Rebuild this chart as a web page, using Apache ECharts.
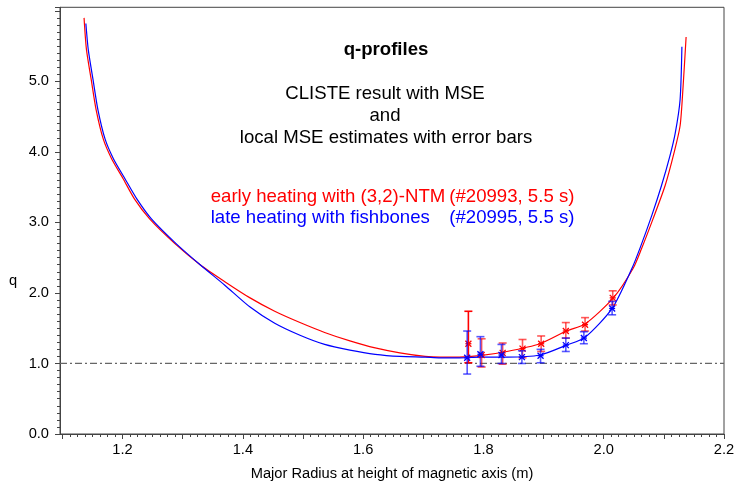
<!DOCTYPE html>
<html><head><meta charset="utf-8">
<script src="https://cdn.jsdelivr.net/npm/echarts@6/dist/echarts.min.js"></script>
<style>html,body{margin:0;padding:0;background:#fff}#c{width:741px;height:486px}</style>
</head><body><div id="c"></div>
<script>
// ---- axis ticks / labels ----
const xMajorTicks = [1.1,1.2,1.3,1.4,1.5,1.6,1.7,1.8,1.9,2.0,2.1,2.2];
const xTickLabels = [1.2,1.4,1.6,1.8,2.0,2.2];
const yTickLabels = [0,1,2,3,4,5];

// ---- CLISTE q-profiles (major radius R, q) ----
const earlyR = [1.136,1.140,1.148,1.156,1.168,1.182,1.201,1.220,1.245,1.287,1.329,1.370,1.412,1.453,1.495,1.536,1.578,1.620,1.661,1.703,1.728,1.760,1.794,1.839,1.894,1.938,1.969,2.016,2.049,2.063,2.082,2.102,2.117,2.127,2.132,2.137];
const earlyQ = [5.90,5.45,5.02,4.60,4.18,3.90,3.62,3.33,3.05,2.70,2.40,2.16,1.93,1.74,1.58,1.44,1.32,1.22,1.15,1.10,1.09,1.09,1.11,1.17,1.28,1.46,1.56,1.93,2.35,2.63,3.05,3.52,3.99,4.37,4.93,5.63];
const lateR  = [1.139,1.143,1.151,1.159,1.171,1.185,1.204,1.224,1.248,1.289,1.329,1.370,1.412,1.453,1.495,1.536,1.578,1.620,1.661,1.703,1.728,1.760,1.794,1.839,1.894,1.938,1.969,2.014,2.047,2.061,2.080,2.096,2.110,2.119,2.127,2.130];
const lateQ  = [5.82,5.45,5.02,4.60,4.18,3.90,3.62,3.33,3.05,2.70,2.40,2.11,1.80,1.57,1.40,1.27,1.19,1.13,1.10,1.09,1.08,1.08,1.09,1.09,1.12,1.26,1.37,1.78,2.35,2.65,3.10,3.52,3.94,4.27,4.74,5.49];

// ---- local MSE estimates with error bars ----
const earlyMseR  = [1.775,1.797,1.832,1.865,1.896,1.937,1.969,2.015];
const earlyMseQ  = [1.28,1.12,1.15,1.21,1.28,1.46,1.55,1.93];
const earlyMseLo = [1.01,0.95,0.99,1.08,1.17,1.36,1.46,1.83];
const earlyMseHi = [1.74,1.35,1.29,1.34,1.39,1.58,1.65,2.03];
const lateMseR   = [1.773,1.795,1.830,1.864,1.895,1.937,1.967,2.014];
const lateMseQ   = [1.08,1.13,1.12,1.09,1.11,1.26,1.36,1.78];
const lateMseLo  = [0.85,0.96,1.00,1.00,1.01,1.17,1.28,1.69];
const lateMseHi  = [1.46,1.38,1.27,1.18,1.20,1.36,1.45,1.88];

const refQ = 1.0;
const xMin = 1.096, xMax = 2.2, yMin = 0, yMax = 6.05;

const FONT = 'Liberation Sans, Arial, Helvetica, sans-serif';
const RED = '#ff0000', BLUE = '#0000ff';

const xMinorTicks = [];
for (let i = 0; i <= 88; i++) {
  const v = Math.round((1.1 + i * 0.0125) * 10000) / 10000;
  if (i % 8 !== 0) xMinorTicks.push(v);
}

const zip = (a, b) => a.map((v, i) => [v, b[i]]);
const zip4 = (a, b, c, d) => a.map((v, i) => [v, b[i], c[i], d[i]]);

function errRender(color) {
  return function (params, api) {
    const x = api.value(0), m = api.value(1), lo = api.value(2), hi = api.value(3);
    const pLo = api.coord([x, lo]), pHi = api.coord([x, hi]), pM = api.coord([x, m]);
    const cap = 4, s = 3;
    const op = params.dataIndex === 0 && color === RED ? 1 : 0.65;
    const bar = { stroke: color, lineWidth: 1.6, opacity: op };
    const mk = { stroke: color, lineWidth: 1.3 };
    return {
      type: 'group',
      children: [
        { type: 'line', shape: { x1: pLo[0], y1: pLo[1], x2: pHi[0], y2: pHi[1] }, style: bar },
        { type: 'line', shape: { x1: pLo[0] - cap, y1: pLo[1], x2: pLo[0] + cap, y2: pLo[1] }, style: bar },
        { type: 'line', shape: { x1: pHi[0] - cap, y1: pHi[1], x2: pHi[0] + cap, y2: pHi[1] }, style: bar },
        { type: 'line', shape: { x1: pM[0] - s, y1: pM[1] - s, x2: pM[0] + s, y2: pM[1] + s }, style: mk },
        { type: 'line', shape: { x1: pM[0] - s, y1: pM[1] + s, x2: pM[0] + s, y2: pM[1] - s }, style: mk },
        { type: 'line', shape: { x1: pM[0] - s, y1: pM[1], x2: pM[0] + s, y2: pM[1] }, style: mk }
      ]
    };
  };
}

function txt(text, x, y, color, opts) {
  opts = opts || {};
  return {
    type: 'text', silent: true,
    style: {
      text: text, x: x, y: y, fill: color,
      font: (opts.bold ? 'bold ' : '') + (opts.size || 18.6) + 'px ' + FONT,
      align: opts.align || 'center', textAlign: opts.align || 'center',
      verticalAlign: 'middle', textVerticalAlign: 'middle'
    }
  };
}

const chart = echarts.init(document.getElementById('c'), null, { renderer: 'canvas' });
chart.setOption({
  animation: false,
  backgroundColor: '#fff',
  grid: { left: 60, right: 17, top: 7.3, bottom: 49.3, show: true, borderColor: '#444', borderWidth: 1, backgroundColor: 'transparent' },
  xAxis: [{
    type: 'value', min: xMin, max: xMax, position: 'bottom',
    name: 'Major Radius at height of magnetic axis (m)', nameLocation: 'middle', nameGap: 32,
    nameTextStyle: { fontFamily: FONT, fontSize: 14.67, color: '#000' },
    axisLine: { show: true, lineStyle: { color: '#444', width: 1 } },
    axisTick: { show: true, length: 5, customValues: xMajorTicks, lineStyle: { color: '#444' } },
    axisLabel: { customValues: xTickLabels, margin: 8, fontFamily: FONT, fontSize: 14.67, color: '#000', formatter: v => Number(v).toFixed(1) },
    splitLine: { show: false }
  }, {
    type: 'value', min: xMin, max: xMax, position: 'bottom', gridIndex: 0,
    axisLine: { show: false },
    axisTick: { show: true, length: 3, customValues: xMinorTicks, lineStyle: { color: '#444' } },
    axisLabel: { show: false },
    splitLine: { show: false }
  }],
  yAxis: {
    type: 'value', min: yMin, max: yMax, interval: 1,
    axisLine: { show: true, lineStyle: { color: '#444', width: 1 } },
    axisTick: { show: true, length: 5, lineStyle: { color: '#444' } },
    minorTick: { show: true, splitNumber: 10, length: 3, lineStyle: { color: '#444' } },
    axisLabel: { margin: 11, fontFamily: FONT, fontSize: 14.67, color: '#000', formatter: v => (yTickLabels.indexOf(Math.round(v)) >= 0 && v < 5.5) ? Number(v).toFixed(1) : '' },
    splitLine: { show: false }
  },
  series: [
    {
      type: 'line', data: [[xMin, refQ], [xMax, refQ]], symbol: 'none', silent: true,
      lineStyle: { color: '#666', width: 1.3, type: [7, 3, 2, 3] }
    },
    {
      name: 'early', type: 'line', data: zip(earlyR, earlyQ), symbol: 'none', smooth: 0.25,
      lineStyle: { color: RED, width: 1.2 }
    },
    {
      name: 'late', type: 'line', data: zip(lateR, lateQ), symbol: 'none', smooth: 0.25,
      lineStyle: { color: BLUE, width: 1.2 }
    },
    {
      type: 'custom', renderItem: errRender(RED), data: zip4(earlyMseR, earlyMseQ, earlyMseLo, earlyMseHi),
      encode: { x: 0, y: [1, 2, 3] }, z: 5
    },
    {
      type: 'custom', renderItem: errRender(BLUE), data: zip4(lateMseR, lateMseQ, lateMseLo, lateMseHi),
      encode: { x: 0, y: [1, 2, 3] }, z: 6
    }
  ],
  graphic: [
    txt('q-profiles', 386, 50, '#000', { bold: true }),
    txt('CLISTE result with MSE', 385, 93.5, '#000'),
    txt('and', 385, 115.5, '#000'),
    txt('local MSE estimates with error bars', 386, 138, '#000'),
    txt('early heating with (3,2)-NTM', 210.7, 196.7, RED, { align: 'left' }),
    txt('(#20993, 5.5 s)', 449.3, 196.7, RED, { align: 'left' }),
    txt('late heating with fishbones', 210.7, 218.3, BLUE, { align: 'left' }),
    txt('(#20995, 5.5 s)', 449.3, 218.3, BLUE, { align: 'left' }),
    txt('q', 13, 281, '#000', { size: 14.67 })
  ]
});
</script>
</body></html>
